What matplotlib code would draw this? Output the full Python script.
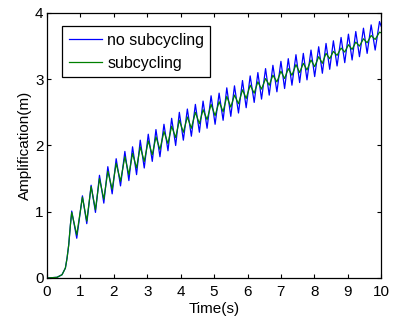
import matplotlib
matplotlib.use('Agg')
import matplotlib.pyplot as plt

plt.rcParams['font.family'] = ['Liberation Sans', 'DejaVu Sans']

# initial rise (shared by both runs)
t_rise = [0.0, 0.30, 0.45, 0.55, 0.60, 0.65, 0.70]
y_rise = [0.0, 0.01, 0.05, 0.15, 0.30, 0.50, 0.80]

# times of the oscillation peaks and troughs
t_peak = [0.74, 1.06, 1.32, 1.57, 1.82, 2.07, 2.33, 2.56, 2.79, 3.03,
          3.26, 3.50, 3.73, 3.96, 4.20, 4.44, 4.67, 4.91, 5.15, 5.38,
          5.61, 5.85, 6.08, 6.31, 6.54, 6.76, 7.00, 7.22, 7.45, 7.67,
          7.90, 8.13, 8.35, 8.57, 8.80, 9.02, 9.24, 9.47, 9.70, 9.95]
t_trough = [0.89, 1.19, 1.45, 1.70, 1.95, 2.20, 2.45, 2.68, 2.91, 3.15,
            3.38, 3.62, 3.85, 4.08, 4.32, 4.56, 4.79, 5.03, 5.27, 5.50,
            5.73, 5.96, 6.20, 6.42, 6.65, 6.88, 7.11, 7.33, 7.56, 7.78,
            8.01, 8.24, 8.46, 8.68, 8.91, 9.13, 9.35, 9.58, 9.82, 10.0]

# no subcycling
blue_peak = [1.01, 1.24, 1.40, 1.55, 1.68, 1.80, 1.91, 1.98, 2.08, 2.17,
             2.24, 2.32, 2.41, 2.50, 2.55, 2.62, 2.67, 2.75, 2.79, 2.87,
             2.90, 2.98, 3.05, 3.10, 3.16, 3.21, 3.27, 3.31, 3.37, 3.39,
             3.44, 3.49, 3.54, 3.58, 3.63, 3.68, 3.72, 3.77, 3.82, 3.87]
blue_trough = [0.60, 0.82, 0.99, 1.13, 1.27, 1.39, 1.47, 1.56, 1.66, 1.76,
               1.83, 1.92, 2.00, 2.08, 2.14, 2.20, 2.26, 2.32, 2.38, 2.44,
               2.49, 2.57, 2.65, 2.70, 2.76, 2.81, 2.86, 2.91, 2.95, 2.99,
               3.04, 3.09, 3.15, 3.20, 3.25, 3.29, 3.34, 3.39, 3.44, 3.80]

# subcycling
green_peak = [0.99, 1.22, 1.38, 1.50, 1.61, 1.73, 1.83, 1.88, 1.98, 2.07,
              2.13, 2.21, 2.29, 2.38, 2.43, 2.50, 2.54, 2.62, 2.66, 2.74,
              2.76, 2.84, 2.91, 2.96, 3.01, 3.06, 3.12, 3.16, 3.22, 3.24,
              3.29, 3.34, 3.39, 3.42, 3.47, 3.52, 3.56, 3.61, 3.66, 3.71]
green_trough = [0.65, 0.86, 1.03, 1.19, 1.34, 1.46, 1.56, 1.66, 1.76, 1.86,
                1.94, 2.03, 2.12, 2.20, 2.26, 2.33, 2.39, 2.45, 2.51, 2.58,
                2.63, 2.71, 2.79, 2.85, 2.91, 2.96, 3.01, 3.06, 3.10, 3.14,
                3.19, 3.24, 3.31, 3.36, 3.41, 3.45, 3.50, 3.55, 3.60, 3.70]


def build(peaks, troughs):
    t = list(t_rise)
    y = list(y_rise)
    for i in range(len(t_peak)):
        t += [t_peak[i], t_trough[i]]
        y += [peaks[i], troughs[i]]
    return t, y


tb, yb = build(blue_peak, blue_trough)
tg, yg = build(green_peak, green_trough)

fig = plt.figure(figsize=(3.95, 3.24), dpi=100)
ax = fig.add_axes([0.119, 0.142, 0.846, 0.818])

ax.plot(tb, yb, color='#0000ff', lw=0.9, label='no subcycling')
ax.plot(tg, yg, color='#008000', lw=0.9, label='subcycling')

ax.set_xlim(0, 10)
ax.set_ylim(0, 4)
ax.set_xticks(range(0, 11))
ax.set_yticks(range(0, 5))
ax.tick_params(direction='in', length=3, width=0.8, top=True, right=True,
               labelsize=11)
ax.tick_params(axis='x', pad=5)
ax.tick_params(axis='y', pad=2.5)
for s in ax.spines.values():
    s.set_linewidth(0.9)

ax.set_xlabel('Time(s)', fontsize=11, labelpad=2)
ax.set_ylabel('Amplification(m)', fontsize=11, labelpad=2)

leg = ax.legend(loc='upper left', bbox_to_anchor=(0.046, 0.95), fontsize=11.5,
                fancybox=False, framealpha=1, edgecolor='black',
                handlelength=2.1, handletextpad=0.3, labelspacing=0.5,
                borderpad=0.4, borderaxespad=0)
leg.get_frame().set_linewidth(0.9)

fig.savefig('out.png', dpi=100)
